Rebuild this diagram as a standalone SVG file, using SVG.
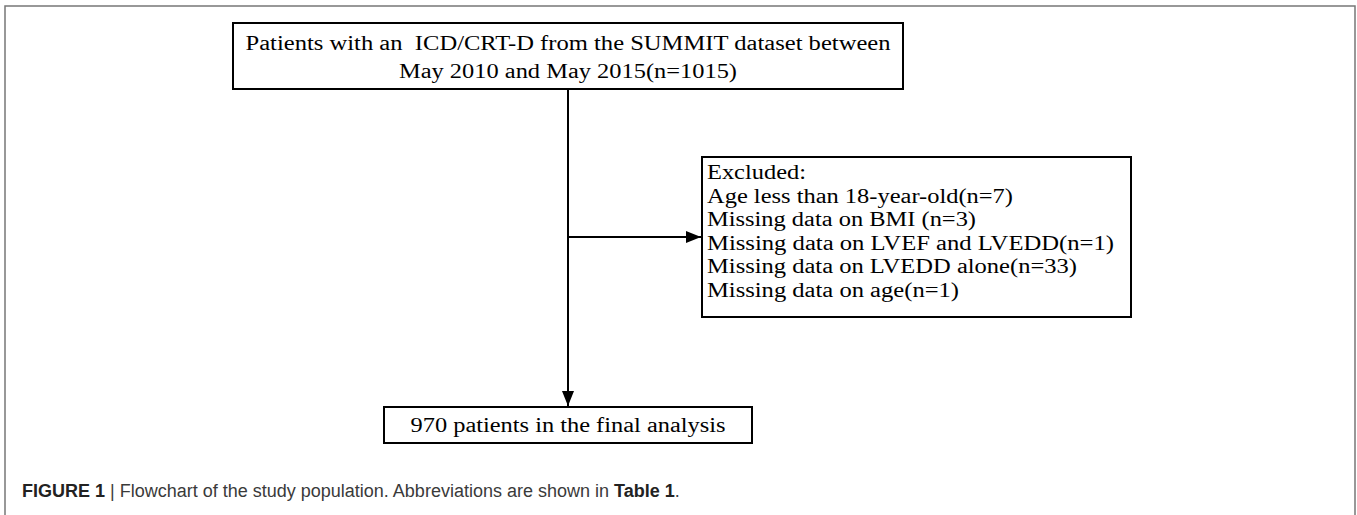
<svg xmlns="http://www.w3.org/2000/svg" width="1357" height="515" viewBox="0 0 1357 515">
<defs>
<style>
.box{fill:#fff;stroke:#000;stroke-width:2}
.t{font-family:"Liberation Serif","Times New Roman",serif;font-size:20px;fill:#000}
.ln{stroke:#000;stroke-width:2;fill:none}
.cap{font-family:"Liberation Sans",Arial,sans-serif;font-size:18px;fill:#3a3a3a}
.b{font-weight:bold;fill:#222}
</style>
<marker id="ah" markerWidth="15" markerHeight="12" refX="15" refY="6" orient="auto" markerUnits="userSpaceOnUse">
<path d="M0,0 L15,6 L0,12 Z" fill="#000"/>
</marker>
</defs>
<rect width="1357" height="515" fill="#fff"/>
<path d="M5,515 V6 H1355 V515" fill="none" stroke="#777" stroke-width="1.5"/>
<g id="connectors">
<line class="ln" x1="568" y1="89" x2="568" y2="406" marker-end="url(#ah)"/>
<line class="ln" x1="568" y1="237" x2="701" y2="237" marker-end="url(#ah)"/>
</g>
<g id="node-source">
<rect class="box" x="233" y="23" width="670" height="66"/>
<text class="t" x="568" y="50" text-anchor="middle" textLength="645" lengthAdjust="spacingAndGlyphs" xml:space="preserve">Patients with an  ICD/CRT-D from the SUMMIT dataset between</text>
<text class="t" x="568" y="78" text-anchor="middle" textLength="338" lengthAdjust="spacingAndGlyphs">May 2010 and May 2015(n=1015)</text>
</g>
<g id="node-excluded">
<rect class="box" x="702" y="157" width="429" height="160"/>
<text class="t" x="707" y="179" textLength="99" lengthAdjust="spacingAndGlyphs">Excluded:</text>
<text class="t" x="707" y="203" textLength="306" lengthAdjust="spacingAndGlyphs">Age less than 18-year-old(n=7)</text>
<text class="t" x="707" y="226" textLength="269" lengthAdjust="spacingAndGlyphs">Missing data on BMI (n=3)</text>
<text class="t" x="707" y="250" textLength="407" lengthAdjust="spacingAndGlyphs">Missing data on LVEF and LVEDD(n=1)</text>
<text class="t" x="707" y="273" textLength="370" lengthAdjust="spacingAndGlyphs">Missing data on LVEDD alone(n=33)</text>
<text class="t" x="707" y="297" textLength="252" lengthAdjust="spacingAndGlyphs">Missing data on age(n=1)</text>
</g>
<g id="node-final">
<rect class="box" x="384" y="407" width="368" height="36"/>
<text class="t" x="568" y="432" text-anchor="middle" textLength="315" lengthAdjust="spacingAndGlyphs">970 patients in the final analysis</text>
</g>
<text class="cap" x="22" y="497"><tspan class="b">FIGURE 1</tspan> | Flowchart of the study population. Abbreviations are shown in <tspan class="b">Table 1</tspan>.</text>
</svg>
